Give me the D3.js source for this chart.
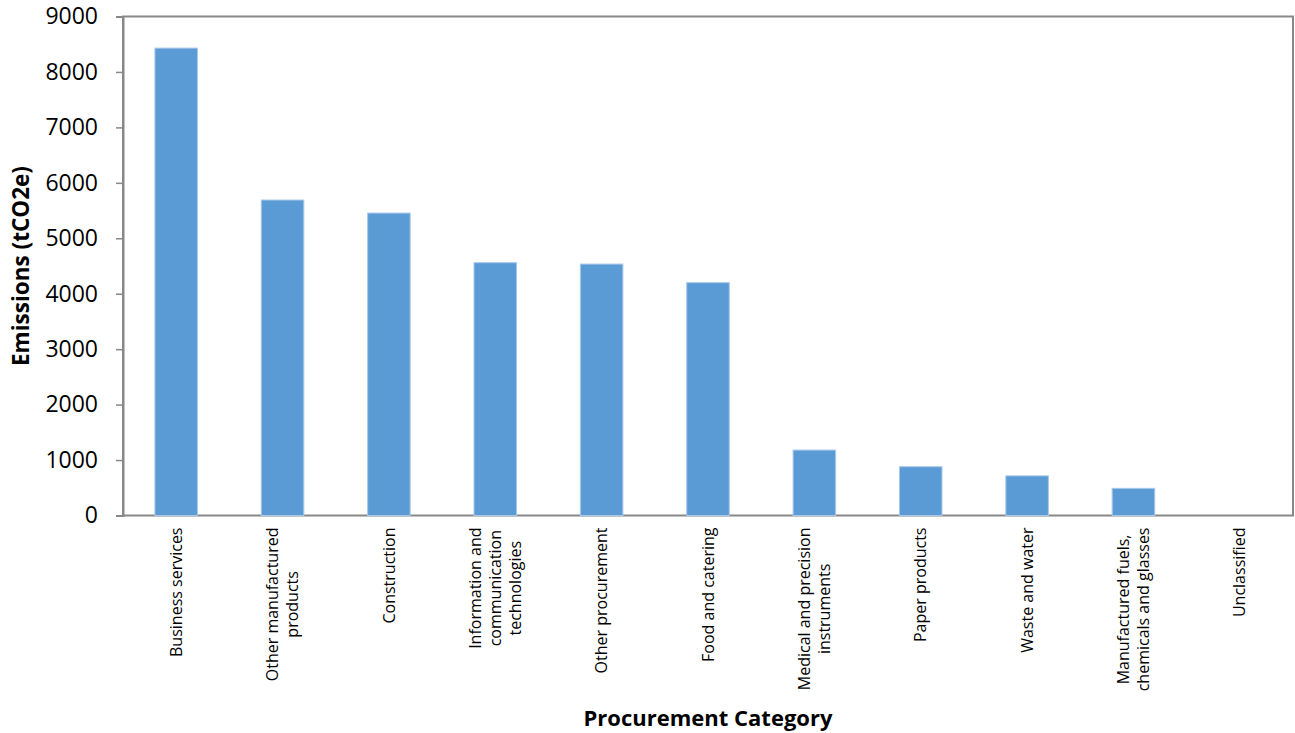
<!DOCTYPE html>
<html>
<head>
<meta charset="utf-8">
<script src="https://cdn.jsdelivr.net/npm/d3@7"></script>
<style>
  html, body { margin: 0; padding: 0; background: #fff; }
  svg { display: block; }
  text { font-family: "Open Sans", "Noto Sans", sans-serif; fill: #000; }
</style>
</head>
<body>
<svg id="chart" width="1295" height="733"></svg>
<script>
const categories = [
  "Business services",
  "Other manufactured|products",
  "Construction",
  "Information and|communication|technologies",
  "Other procurement",
  "Food and catering",
  "Medical and precision|instruments",
  "Paper products",
  "Waste and water",
  "Manufactured fuels,|chemicals and glasses",
  "Unclassified"
];
const emissions = [8430, 5690, 5455, 4560, 4535, 4200, 1180, 880, 715, 490, 0];
const yTicks = [0, 1000, 2000, 3000, 4000, 5000, 6000, 7000, 8000, 9000];
const yTitle = "Emissions (tCO2e)";
const xTitle = "Procurement Category";

(function () {
const svg = d3.select("#chart");
const mLeft = 123, mRight = 1293, mTop = 16.5, mBottom = 515.5;

const x = d3.scaleBand().domain(categories).range([mLeft, mRight]).paddingInner(0.6).paddingOuter(0.3);
const y = d3.scaleLinear().domain([0, 9000]).range([mBottom, mTop]);

// plot border
svg.append("rect")
  .attr("x", mLeft).attr("y", mTop)
  .attr("width", mRight - mLeft).attr("height", mBottom - mTop)
  .attr("fill", "none").attr("stroke", "#888").attr("stroke-width", 2);

// bars
svg.append("g").selectAll("rect")
  .data(categories.map((c, i) => ({ c, v: emissions[i] })))
  .join("rect")
  .attr("x", d => x(d.c))
  .attr("width", x.bandwidth())
  .attr("y", d => y(d.v))
  .attr("height", d => y(0) - y(d.v))
  .attr("fill", "#5B9BD5")
  .attr("stroke", "#A9C8EA")
  .attr("stroke-width", d => d.v > 0 ? 1 : 0);

// y axis
const yAxis = d3.axisLeft(y).tickValues(yTicks).tickSize(7).tickPadding(18).tickFormat(d3.format("d"));
const gy = svg.append("g").attr("transform", `translate(${mLeft},0)`).call(yAxis);
gy.select(".domain").attr("stroke", "#888").attr("stroke-width", 2);
gy.selectAll(".tick line").attr("stroke", "#888").attr("stroke-width", 1.5);
gy.selectAll(".tick text").style("font-size", "23px").style("font-family", '"Open Sans", sans-serif').attr("fill", "#000");

// x axis labels (rotated, multi-line, lines centred on the longest line)
const lh = 20;
const xg = svg.append("g");
categories.forEach(c => {
  const lines = c.split("|");
  const cx = x(c) + x.bandwidth() / 2;
  const g = xg.append("g").attr("transform", `translate(${cx},${mBottom + 12}) rotate(-90)`);
  const t = g.append("text").style("font-size", "16px").attr("text-anchor", "middle");
  const spans = lines.map((ln, i) => t.append("tspan")
      .attr("x", 0)
      .attr("y", (i - (lines.length - 1) / 2) * lh)
      .attr("dy", "0.35em")
      .text(ln));
  const maxLen = d3.max(spans, s => s.node().getComputedTextLength());
  spans.forEach(s => s.attr("x", -maxLen / 2));
});

// axis titles
svg.append("text")
  .attr("transform", `translate(${21},${(mTop + mBottom) / 2}) rotate(-90)`)
  .attr("text-anchor", "middle")
  .attr("dy", "0.35em")
  .style("font-size", "22.5px").style("font-weight", "bold")
  .text(yTitle);

svg.append("text")
  .attr("x", (mLeft + mRight) / 2).attr("y", 726)
  .attr("text-anchor", "middle")
  .style("font-size", "22px").style("font-weight", "bold")
  .text(xTitle);
})();
</script>
</body>
</html>
